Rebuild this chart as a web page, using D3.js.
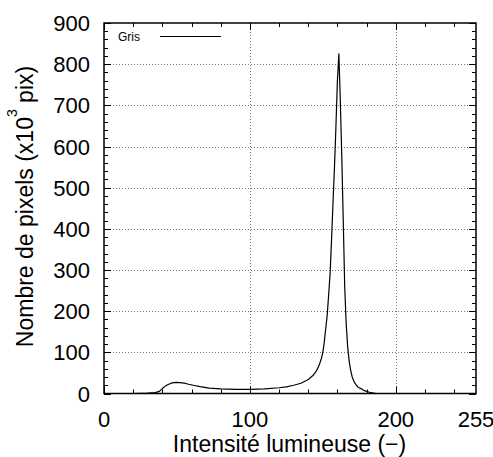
<!DOCTYPE html>
<html>
<head>
<meta charset="utf-8">
<script src="https://cdn.jsdelivr.net/npm/d3@7"></script>
<style>
html,body{margin:0;padding:0;background:#fff;}
svg{display:block;font-family:"Liberation Sans",Arial,sans-serif;}
</style>
</head>
<body>
<svg id="chart" width="493" height="457"></svg>
<script>
// Data
const intensity = [0, 20, 25, 30, 35, 38, 40, 42, 44, 46, 48, 50, 52, 55, 58, 62, 66, 72, 80, 90, 100, 110, 120, 125, 130, 135, 140, 143, 145, 146, 147, 148, 149, 150, 151, 152, 153, 154, 155, 156, 157, 158, 159, 160, 161, 162, 163, 164, 165, 166, 167, 168, 169, 170, 171, 172, 173, 174, 175, 176, 177, 178, 179, 180, 181, 182, 184, 186, 190, 255];
const pixelsGris = [0, 0, 0.5, 1, 2, 5, 12, 18, 22, 25, 26.5, 27, 26.5, 25, 22.5, 19.5, 16.5, 13, 11, 10, 10, 11, 14, 16, 20, 25, 34, 43, 52, 58, 65, 74, 85, 100, 125, 158, 190, 240, 292, 375, 465, 550, 650, 760, 825, 710, 575, 420, 260, 170, 115, 80, 58, 42, 32, 25, 20, 16, 14, 12, 10, 8, 6.5, 5, 4, 3, 1.5, 0.5, 0, 0];
const xMajorTicks = [0, 100, 200];
const xTickLabels = ["0", "100", "200", "255"];
const xTickLabelValues = [0, 100, 200, 255];
const yMajorTicks = [0, 100, 200, 300, 400, 500, 600, 700, 800, 900];
const seriesName = "Gris";

const svg = d3.select("#chart");
const m = {left: 104, right: 476, top: 23, bottom: 393.5};
const x = d3.scaleLinear().domain([0, 255]).range([m.left, m.right]);
const y = d3.scaleLinear().domain([0, 900]).range([m.bottom, m.top]);

const xMinor = d3.range(0, 256, 20).filter(v => !xMajorTicks.includes(v));
const yMinor = d3.range(0, 901, 20).filter(v => v % 100 !== 0);

// grid
const grid = svg.append("g").attr("stroke", "#777").attr("stroke-width", 1).attr("stroke-dasharray", "1,2");
grid.selectAll("line.gx").data(xMajorTicks.filter(v => v > 0)).join("line")
  .attr("x1", d => Math.round(x(d)) + 0.5).attr("x2", d => Math.round(x(d)) + 0.5)
  .attr("y1", m.top).attr("y2", m.bottom);
grid.selectAll("line.gy").data(yMajorTicks.filter(v => v > 0 && v < 900)).join("line")
  .attr("y1", d => Math.round(y(d)) + 0.5).attr("y2", d => Math.round(y(d)) + 0.5)
  .attr("x1", m.left).attr("x2", m.right);

// ticks (inward, all four sides)
const tk = svg.append("g").attr("stroke", "#000").attr("stroke-width", 1);
function xt(vals, len) {
  vals.forEach(v => {
    const px = Math.round(x(v)) + 0.5;
    tk.append("line").attr("x1", px).attr("x2", px).attr("y1", m.bottom).attr("y2", m.bottom - len);
    tk.append("line").attr("x1", px).attr("x2", px).attr("y1", m.top).attr("y2", m.top + len);
  });
}
function yt(vals, len) {
  vals.forEach(v => {
    const py = Math.round(y(v)) + 0.5;
    tk.append("line").attr("y1", py).attr("y2", py).attr("x1", m.left).attr("x2", m.left + len);
    tk.append("line").attr("y1", py).attr("y2", py).attr("x1", m.right).attr("x2", m.right - len);
  });
}
xt(xMajorTicks, 7); xt(xMinor, 4);
yt(yMajorTicks, 7); yt(yMinor, 4);

// curve
const line = d3.line().x((d, i) => x(intensity[i])).y(d => y(d));
svg.append("path").datum(pixelsGris)
  .attr("fill", "none").attr("stroke", "#000").attr("stroke-width", 1.2)
  .attr("stroke-linejoin", "round")
  .attr("d", line);

// frame
svg.append("rect").attr("x", m.left).attr("y", m.top)
  .attr("width", m.right - m.left).attr("height", m.bottom - m.top)
  .attr("fill", "none").attr("stroke", "#000").attr("stroke-width", 1.5);

// tick labels
svg.append("g").selectAll("text").data(xTickLabelValues).join("text")
  .attr("x", d => x(d)).attr("y", 427)
  .attr("text-anchor", "middle").attr("font-size", 22)
  .text((d, i) => xTickLabels[i]);
svg.append("g").selectAll("text").data(yMajorTicks).join("text")
  .attr("x", 90).attr("y", d => y(d) + 8)
  .attr("text-anchor", "end").attr("font-size", 22)
  .text(d => d);

// axis titles
svg.append("text").attr("x", 289.5).attr("y", 452)
  .attr("text-anchor", "middle").attr("font-size", 23)
  .text("Intensité lumineuse (−)");
const yl = svg.append("text").attr("transform", "translate(33,206.5) rotate(-90)")
  .attr("text-anchor", "middle").attr("font-size", 23);
yl.append("tspan").text("Nombre de pixels (x10");
yl.append("tspan").attr("font-size", 14).attr("dy", -16).text("3");
yl.append("tspan").attr("dy", 16).text("\u00a0pix)");

// legend
svg.append("text").attr("x", 118).attr("y", 40.5).attr("font-size", 12).text(seriesName);
svg.append("line").attr("x1", 160).attr("x2", 221).attr("y1", 36.5).attr("y2", 36.5)
  .attr("stroke", "#000").attr("stroke-width", 1.2);
</script>
</body>
</html>
